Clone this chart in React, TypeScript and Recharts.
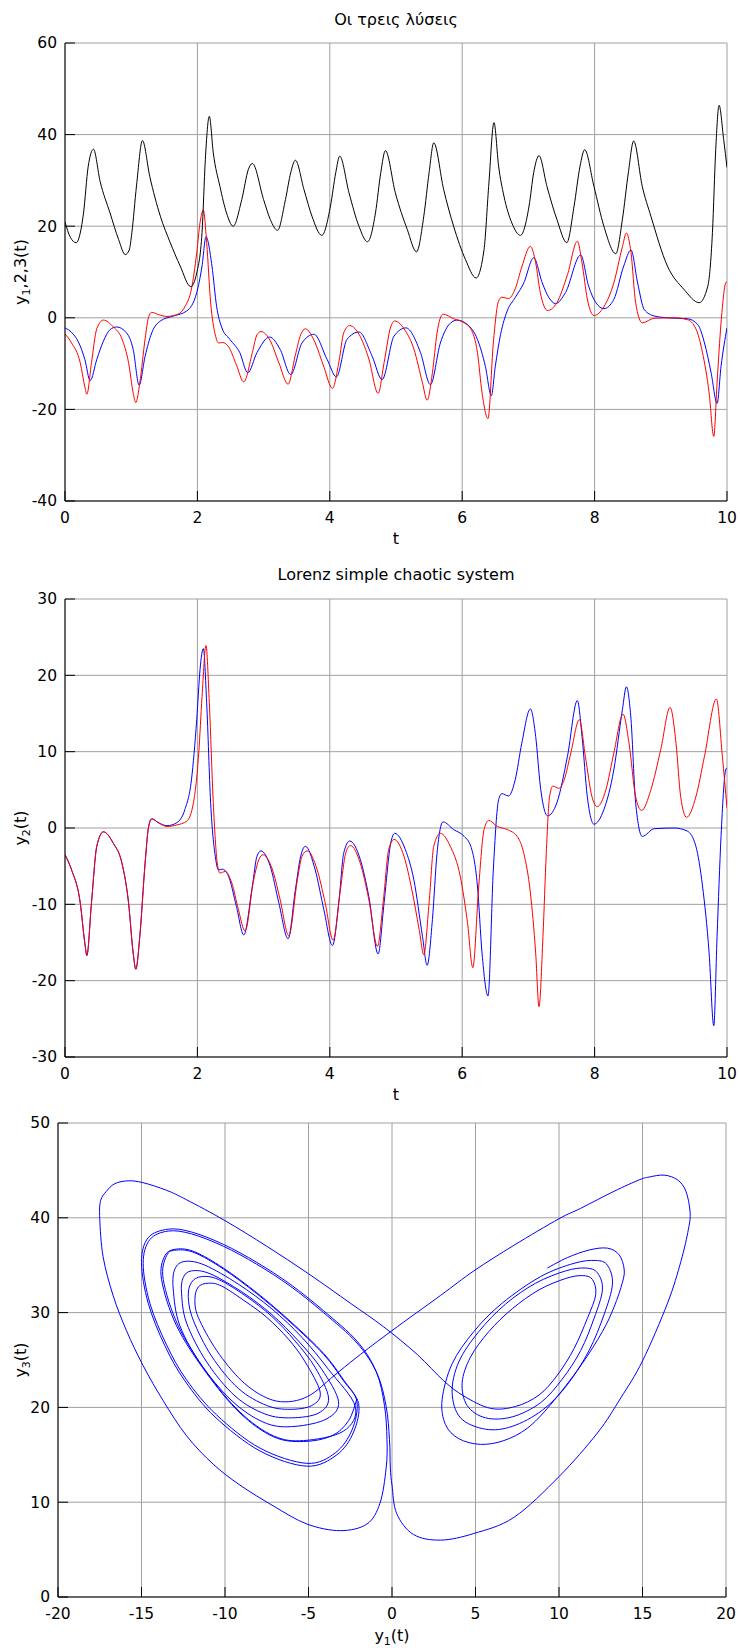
import React from 'react'
import { CartesianGrid, Line, LineChart, XAxis, YAxis } from 'recharts'

const font = '"DejaVu Sans", "Noto Sans", sans-serif'
const gridColor = '#a0a0a0'

const tTicks = [0, 2, 4, 6, 8, 10]
const solutionTicks = [-40, -20, 0, 20, 40, 60]
const y2Ticks = [-30, -20, -10, 0, 10, 20, 30]
const y1Ticks = [-20, -15, -10, -5, 0, 5, 10, 15, 20]
const y3Ticks = [0, 10, 20, 30, 40, 50]

// [t, y1]
const y1Points: [number, number][] = [
  [0, -2.2], [0.1, -3.2], [0.2, -5.2], [0.3, -9.1], [0.38, -13.7], [0.48, -9.1], [0.58, -5.1], [0.68, -2.6],
  [0.78, -2.0], [0.93, -3.3], [1.03, -6.9], [1.12, -14.7], [1.21, -8.4], [1.31, -3.3], [1.44, -0.7], [1.64, 0.4],
  [1.84, 1.5], [1.99, 5.5], [2.07, 11.3], [2.13, 17.7], [2.22, 11.3], [2.29, 2.5], [2.37, -2.2], [2.49, -4.7],
  [2.64, -7.6], [2.76, -12.0], [2.9, -7.6], [3.09, -4.2], [3.25, -6.9], [3.41, -12.4], [3.58, -5.5], [3.76, -3.6],
  [3.96, -9.1], [4.1, -12.9], [4.26, -4.7], [4.44, -3.1], [4.64, -8.4], [4.79, -13.5], [4.97, -4.0], [5.15, -2.2],
  [5.37, -7.6], [5.52, -14.6], [5.67, -5.5], [5.8, -1.5], [5.92, -0.5], [6.08, -1.5], [6.23, -4.7], [6.35, -10.6],
  [6.44, -17.0], [6.5, -10.6], [6.58, -3.6], [6.68, 1.5], [6.8, 4.4], [6.93, 7.6], [7.08, 13.1], [7.21, 7.6],
  [7.31, 4.4], [7.41, 3.1], [7.56, 5.5], [7.79, 13.7], [7.91, 6.9], [8.02, 3.3], [8.14, 2.0], [8.29, 4.0],
  [8.44, 11.3], [8.55, 14.8], [8.65, 7.6], [8.75, 1.8], [8.9, 0.4], [9.1, 0], [9.4, -0.2], [9.56, -1.5],
  [9.66, -5.5], [9.76, -12.0], [9.85, -18.7], [9.91, -10.6], [10, -2.2],
]

// [t, y2]
const y2Points: [number, number][] = [
  [0, -3.5], [0.1, -5.5], [0.23, -9.8], [0.3, -15.1], [0.33, -16.7], [0.4, -9.8], [0.48, -2.4], [0.58, -0.5],
  [0.73, -2.0], [0.86, -4.6], [0.96, -9.8], [1.03, -16.4], [1.07, -18.5], [1.13, -14.2], [1.21, -4.6], [1.26, 0],
  [1.31, 1.2], [1.41, 0.7], [1.54, 0.3], [1.69, 0.7], [1.81, 2.4], [1.91, 6.3], [1.99, 14.2], [2.04, 20.8],
  [2.09, 23.5], [2.14, 16.4], [2.2, 3.3], [2.27, -3.7], [2.32, -5.5], [2.38, -5.4], [2.47, -6.3], [2.59, -10.3],
  [2.7, -14.0], [2.83, -7.6], [2.9, -3.7], [2.96, -3.0], [3.1, -5.0], [3.23, -9.8], [3.37, -14.5], [3.48, -8.1],
  [3.56, -3.7], [3.63, -2.4], [3.78, -5.5], [3.91, -10.7], [4.04, -15.4], [4.14, -9.4], [4.21, -3.3], [4.3, -1.7],
  [4.46, -4.1], [4.59, -9.0], [4.73, -16.5], [4.82, -9.8], [4.92, -2.0], [4.98, -0.7], [5.14, -2.8], [5.27, -6.8],
  [5.4, -14.2], [5.47, -18.0], [5.55, -12.0], [5.62, -3.3], [5.71, 0.8], [5.87, -0.2], [6.03, -1.1], [6.13, -2.4],
  [6.23, -7.6], [6.3, -16.4], [6.39, -22.0], [6.47, -5.5], [6.55, 3.7], [6.6, 4.5], [6.7, 4.2], [6.8, 6.3],
  [6.9, 11.1], [7.03, 15.6], [7.11, 12.0], [7.18, 5.5], [7.29, 1.6], [7.43, 3.3], [7.59, 9.4], [7.74, 16.7],
  [7.81, 12.0], [7.89, 4.1], [7.99, 0.5], [8.14, 2.4], [8.29, 7.6], [8.42, 15.5], [8.48, 18.5], [8.55, 14.2],
  [8.62, 3.3], [8.72, -1.1], [8.9, -0.1], [9.2, 0], [9.4, -0.4], [9.53, -2.4], [9.63, -7.6], [9.73, -16.4],
  [9.8, -25.9], [9.85, -14.2], [9.91, -1.1], [9.98, 7.6], [10, 7.9],
]

// [t, y3]
const y3Points: [number, number][] = [
  [0, 20.9], [0.08, 17.6], [0.17, 16.4], [0.23, 18.5], [0.28, 22.9], [0.35, 33.0], [0.43, 36.8], [0.53, 29.8],
  [0.68, 22.9], [0.81, 17.1], [0.91, 13.8], [0.97, 14.8], [1.01, 18.6], [1.08, 28.8], [1.17, 38.7], [1.28, 30.9],
  [1.44, 22.2], [1.59, 16.4], [1.74, 11.3], [1.9, 6.8], [1.99, 9.8], [2.07, 18.6], [2.12, 34.6], [2.18, 44.0],
  [2.24, 36.0], [2.34, 28.7], [2.44, 22.9], [2.54, 20.0], [2.67, 25.8], [2.77, 32.4], [2.83, 33.7], [3.0, 25.8],
  [3.1, 21.5], [3.21, 19.1], [3.33, 25.8], [3.41, 31.7], [3.48, 34.4], [3.61, 28.0], [3.73, 22.2], [3.88, 18.0],
  [4.01, 24.4], [4.09, 31.7], [4.15, 35.3], [4.29, 27.3], [4.44, 20.0], [4.57, 16.6], [4.69, 22.9], [4.77, 31.7],
  [4.84, 36.5], [4.99, 27.3], [5.17, 19.3], [5.31, 14.4], [5.42, 22.2], [5.5, 31.7], [5.57, 38.2], [5.72, 28.0],
  [5.87, 20.0], [6.05, 12.7], [6.21, 8.7], [6.33, 14.9], [6.4, 28.7], [6.48, 42.6], [6.55, 33.1], [6.63, 26.6],
  [6.75, 20.7], [6.88, 18.0], [7.01, 24.4], [7.08, 31.7], [7.16, 35.4], [7.28, 28.7], [7.43, 21.5], [7.58, 16.4],
  [7.69, 24.4], [7.78, 33.1], [7.85, 36.7], [7.99, 28.7], [8.14, 20.0], [8.32, 14.0], [8.42, 21.5], [8.51, 31.7],
  [8.59, 38.6], [8.72, 28.7], [8.85, 22.2], [9.1, 11.3], [9.35, 6.2], [9.58, 3.3], [9.71, 6.9], [9.78, 18.6],
  [9.83, 36.8], [9.88, 46.4], [9.95, 38.9], [10, 32.8],
]

// [t, y2] from the slightly perturbed start
const y2PerturbedPoints: [number, number][] = [
  [0, -3.5], [0.1, -5.5], [0.23, -9.8], [0.3, -15.1], [0.33, -16.7], [0.4, -9.8], [0.48, -2.4], [0.58, -0.5],
  [0.73, -2.0], [0.86, -4.6], [0.96, -9.8], [1.03, -16.4], [1.07, -18.5], [1.13, -14.2], [1.21, -4.6], [1.26, 0],
  [1.31, 1.2], [1.41, 0.7], [1.54, 0.2], [1.69, 0.4], [1.84, 0.9], [1.94, 3.3], [2.02, 9.8], [2.07, 17.2],
  [2.13, 23.9], [2.18, 16.4], [2.24, 3.3], [2.3, -4.6], [2.34, -5.9], [2.42, -5.7], [2.52, -7.2], [2.62, -10.7],
  [2.72, -13.5], [2.85, -6.8], [2.93, -4.1], [2.99, -3.5], [3.15, -5.9], [3.25, -9.4], [3.38, -14.1], [3.51, -6.8],
  [3.58, -3.7], [3.66, -3.0], [3.81, -5.5], [3.93, -9.8], [4.05, -14.7], [4.16, -8.1], [4.24, -3.3], [4.31, -2.3],
  [4.46, -4.6], [4.59, -9.4], [4.72, -15.5], [4.81, -9.4], [4.89, -2.8], [4.97, -1.5], [5.12, -3.7], [5.24, -8.1],
  [5.35, -13.3], [5.42, -16.6], [5.5, -9.8], [5.57, -2.4], [5.67, -0.7], [5.82, -2.4], [5.97, -6.3], [6.08, -12.4],
  [6.16, -18.3], [6.25, -7.6], [6.33, -0.2], [6.4, 1.0], [6.53, 0.2], [6.68, -0.2], [6.83, -1.1], [6.93, -3.3],
  [7.03, -8.5], [7.11, -16.4], [7.16, -23.4], [7.22, -14.2], [7.27, -3.3], [7.32, 4.1], [7.37, 5.5], [7.46, 5.2],
  [7.54, 6.3], [7.64, 9.8], [7.77, 14.2], [7.86, 9.4], [7.96, 4.1], [8.04, 2.8], [8.17, 5.0], [8.29, 9.8],
  [8.43, 14.9], [8.52, 11.1], [8.62, 4.1], [8.71, 2.3], [8.85, 5.0], [9.0, 10.3], [9.14, 15.8], [9.23, 11.1],
  [9.3, 4.1], [9.39, 1.4], [9.53, 4.1], [9.66, 9.4], [9.84, 16.9], [9.93, 9.4], [10, 2.6],
]

// [y1, y3] along the trajectory, in time order
const phasePoints: [number, number][] = [
  // left wing, first two turns
  [-2.1, 20.9], [-2.6, 18.6], [-3.6, 17.0], [-5.3, 16.4], [-7.1, 16.9], [-9.1, 19.4], [-11.1, 23.6], [-12.9, 28.6],
  [-13.8, 33.5], [-13.6, 36.0], [-12.9, 36.7], [-11.8, 36.4], [-10.1, 34.7], [-8.1, 32.1], [-6.1, 29.1], [-4.1, 25.7],
  [-2.9, 22.9], [-2.1, 20.6], [-2.4, 17.6], [-3.4, 15.2], [-5.1, 14.1], [-7.9, 15.7], [-10.5, 19.2], [-12.3, 22.9],
  [-13.5, 26.6], [-14.5, 31.0], [-14.9, 35.2], [-14.5, 37.7], [-13.4, 38.6], [-12.0, 38.3], [-10.1, 37.0], [-8.1, 35.1],
  [-6.1, 32.8], [-4.1, 30.0], [-2.1, 26.8], [-0.9, 23.6], [-0.35, 20.1], [-0.15, 16.6], [-0.1, 13.6],
  // big swing round the right wing
  [0, 11.8], [0.28, 8.8], [1.28, 6.6], [2.9, 6.0], [4.9, 6.7], [7.3, 8.4], [10.0, 12.7], [12.3, 17.3],
  [13.7, 21.0], [15.0, 24.9], [16.5, 31.0], [17.3, 35.4], [17.75, 38.8], [17.85, 40.6], [17.6, 42.8], [17.1, 44.0],
  [16.3, 44.5], [15.4, 44.3], [14.8, 44.0], [13.3, 42.8], [11.3, 41.0], [10.0, 39.9], [7.3, 37.1], [4.9, 34.4],
  [2.9, 31.8], [0, 28.1], [-2.1, 25.3], [-3.5, 23.3], [-4.9, 21.3],
  // left wing, spiralling outward
  [-6.2, 20.6], [-7.5, 21.0], [-9.0, 22.8], [-10.5, 26.0], [-11.6, 29.5], [-11.8, 31.4], [-11.6, 32.7], [-11.0, 33.1],
  [-10.2, 32.8], [-8.8, 31.2], [-7.5, 29.5], [-6.2, 27.2], [-5.2, 24.8],
  [-4.3, 21.6], [-4.8, 20.2], [-6.1, 19.8], [-7.5, 20.2], [-9.2, 22.0], [-10.8, 25.4], [-11.9, 29.2], [-12.2, 31.7],
  [-12.0, 33.2], [-11.4, 33.8], [-10.4, 33.5], [-8.8, 31.8], [-7.2, 29.6], [-5.8, 27.0], [-4.6, 24.2],
  [-3.8, 21.0], [-4.4, 19.4], [-6.0, 18.9], [-7.6, 19.3], [-9.4, 21.2], [-11.1, 24.8], [-12.3, 28.9], [-12.6, 32.0],
  [-12.5, 33.7], [-12.0, 34.4], [-10.9, 34.1], [-9.0, 32.2], [-7.2, 29.8], [-5.6, 27.0], [-4.2, 24.0],
  [-3.2, 20.6], [-3.9, 18.8], [-5.8, 18.0], [-7.5, 18.3], [-9.4, 20.4], [-11.3, 24.2], [-12.7, 28.6], [-13.1, 32.5],
  [-13.0, 34.6], [-12.4, 35.4], [-11.2, 35.0], [-9.2, 33.0], [-7.2, 30.4], [-5.4, 27.4], [-3.8, 24.0],
  [-2.2, 20.1], [-2.9, 17.5], [-5.3, 16.5], [-7.1, 17.0], [-9.1, 19.5], [-11.1, 23.7], [-12.8, 28.6], [-13.7, 33.5],
  [-13.5, 36.0], [-12.9, 36.6], [-11.8, 36.3], [-10.1, 34.6], [-8.1, 32.0], [-6.1, 29.0], [-4.1, 25.6], [-2.9, 22.8],
  [-2.0, 20.4], [-2.3, 17.4], [-3.3, 15.0], [-5.1, 13.8], [-7.9, 15.4], [-10.6, 19.0], [-12.4, 22.8], [-13.6, 26.5],
  [-14.6, 31.0], [-15.0, 35.3], [-14.6, 37.9], [-13.4, 38.8], [-12.0, 38.5], [-10.1, 37.2], [-8.1, 35.3], [-6.1, 33.0],
  [-4.1, 30.2], [-2.1, 27.0], [-0.95, 23.8], [-0.45, 20.2], [-0.3, 16.6], [-0.35, 13.6],
  // big swing round the left wing, then across
  [-0.72, 9.9], [-1.5, 7.7], [-3.1, 7.0], [-5.1, 7.7], [-7.1, 9.6], [-9.1, 11.8], [-10.7, 14.0], [-12.3, 17.0],
  [-13.7, 20.7], [-14.9, 24.4], [-15.9, 28.1], [-16.7, 31.8], [-17.3, 35.9], [-17.5, 39.9], [-17.45, 41.8], [-17.1, 42.8],
  [-16.6, 43.6], [-15.8, 43.9], [-14.9, 43.7], [-13.5, 42.9], [-12.3, 41.9], [-10.0, 39.7], [-7.5, 37.0], [-5.0, 34.1],
  [-2.5, 31.0], [-0.5, 28.5], [1.5, 25.6], [3.1, 22.8], [4.3, 21.2], [5.9, 19.9],
  // right wing, spiralling outward
  [7.4, 20.1], [8.8, 21.3], [9.9, 23.4], [10.9, 26.2], [11.7, 29.4], [12.2, 31.9], [12.0, 33.5], [11.4, 33.9],
  [10.4, 33.6], [8.8, 32.4], [7.2, 30.4], [5.8, 28.0], [4.7, 25.3], [4.2, 22.6], [4.5, 20.2], [5.6, 18.9],
  [7.2, 19.0], [8.9, 20.5], [10.2, 23.0], [11.3, 26.0], [12.1, 29.4], [12.6, 32.4], [12.3, 34.2], [11.6, 34.7],
  [10.4, 34.4], [8.6, 33.1], [6.8, 30.9], [5.2, 28.0], [4.0, 24.8], [3.6, 21.6], [4.1, 18.9], [5.6, 17.7],
  [7.2, 18.0], [9.0, 19.7], [10.5, 22.4], [11.8, 26.0], [12.7, 29.8], [13.2, 33.0], [12.9, 35.0], [12.2, 35.5],
  [10.9, 35.2], [8.9, 33.8], [6.6, 31.0], [4.9, 28.0], [3.6, 24.6], [3.0, 20.8], [3.2, 18.2], [4.0, 16.7],
  [5.3, 16.1], [6.7, 16.5], [8.1, 17.8], [9.5, 20.3], [11.3, 24.4], [12.6, 28.0], [13.3, 30.6], [13.8, 33.2],
  [13.9, 34.6], [13.6, 36.1], [12.9, 36.8], [11.8, 36.6], [10.5, 35.8], [9.3, 34.7],
]

const toRows = (pts: [number, number][]) => pts.map(([t, v]) => ({ t, v }))
const phaseRows = phasePoints.map(([x, y]) => ({ x, y }))

// uniform Catmull-Rom through the samples, so the loops stay round in both directions
function catmullRom(context: any) {
  let pts: [number, number][] = []
  return {
    areaStart() {},
    areaEnd() {},
    lineStart() {
      pts = []
    },
    point(x: number, y: number) {
      pts.push([+x, +y])
    },
    lineEnd() {
      if (!pts.length) return
      context.moveTo(pts[0][0], pts[0][1])
      for (let i = 0; i < pts.length - 1; i++) {
        const p0 = pts[Math.max(i - 1, 0)]
        const p1 = pts[i]
        const p2 = pts[i + 1]
        const p3 = pts[Math.min(i + 2, pts.length - 1)]
        context.bezierCurveTo(
          p1[0] + (p2[0] - p0[0]) / 6,
          p1[1] + (p2[1] - p0[1]) / 6,
          p2[0] - (p3[0] - p1[0]) / 6,
          p2[1] - (p3[1] - p1[1]) / 6,
          p2[0],
          p2[1],
        )
      }
    },
  }
}

// inward tick marks on all four sides, labels on bottom and left only
const BottomTick = ({ x, y, payload }: any) => (
  <g>
    <line x1={x} y1={y} x2={x} y2={y - 10} stroke="#000" />
    <text x={x} y={y + 21.5} textAnchor="middle" fontFamily={font} fontSize={15.5} fill="#000">
      {payload.value}
    </text>
  </g>
)
const TopTick = ({ x, y }: any) => <line x1={x} y1={y} x2={x} y2={y + 10} stroke="#000" />
const LeftTick = ({ x, y, payload }: any) => (
  <g>
    <line x1={x} y1={y} x2={x + 10} y2={y} stroke="#000" />
    <text x={x - 8} y={y + 5.3} textAnchor="end" fontFamily={font} fontSize={15.5} fill="#000">
      {payload.value}
    </text>
  </g>
)
const RightTick = ({ x, y }: any) => <line x1={x} y1={y} x2={x - 10} y2={y} stroke="#000" />

const frame = { stroke: '#000' }

function Panel({
  top,
  height,
  margin,
  leftWidth,
  xKey,
  xDomain,
  xTicks,
  yDomain,
  yTicks,
  bottomHeight,
  children,
}: {
  top: number
  height: number
  margin: { top: number; right: number; bottom: number; left: number }
  leftWidth: number
  xKey: string
  xDomain: [number, number]
  xTicks: number[]
  yDomain: [number, number]
  yTicks: number[]
  bottomHeight: number
  children: React.ReactNode
}) {
  return (
    <div style={{ position: 'absolute', left: 0, top }}>
      <LineChart width={740} height={height} margin={margin}>
        <CartesianGrid stroke={gridColor} strokeWidth={1} />
        <XAxis
          type="number"
          dataKey={xKey}
          domain={xDomain}
          ticks={xTicks}
          interval={0}
          height={bottomHeight}
          tickSize={0}
          tickMargin={0}
          tick={BottomTick}
          axisLine={frame}
          allowDataOverflow
        />
        <XAxis
          xAxisId="top"
          orientation="top"
          type="number"
          dataKey={xKey}
          domain={xDomain}
          ticks={xTicks}
          interval={0}
          height={0}
          tickSize={0}
          tickMargin={0}
          tick={TopTick}
          axisLine={frame}
          allowDataOverflow
        />
        <YAxis
          type="number"
          domain={yDomain}
          ticks={yTicks}
          interval={0}
          width={leftWidth}
          tickSize={0}
          tickMargin={0}
          tick={LeftTick}
          axisLine={frame}
          allowDataOverflow
        />
        <YAxis
          yAxisId="right"
          orientation="right"
          type="number"
          domain={yDomain}
          ticks={yTicks}
          interval={0}
          width={0}
          tickSize={0}
          tickMargin={0}
          tick={RightTick}
          axisLine={frame}
          allowDataOverflow
        />
        {children}
      </LineChart>
    </div>
  )
}

const Sub = ({ base, sub, rest }: { base: string; sub: string; rest: string }) => (
  <>
    {base}
    <tspan fontSize={11} dy={4}>
      {sub}
    </tspan>
    <tspan dy={-4}>{rest}</tspan>
  </>
)

export default function App() {
  const timeMargin = { top: 43, right: 13, bottom: 0, left: 0 }
  return (
    <div style={{ position: 'absolute', left: 0, top: 0, width: 740, height: 1650, background: '#fff' }}>
      <Panel
        top={0}
        height={560}
        margin={timeMargin}
        leftWidth={65}
        xKey="t"
        xDomain={[0, 10]}
        xTicks={tTicks}
        yDomain={[-40, 60]}
        yTicks={solutionTicks}
        bottomHeight={59}
      >
        <Line data={toRows(y1Points)} dataKey="v" type="monotone" stroke="#0000ff" strokeWidth={1} dot={false} activeDot={false} isAnimationActive={false} />
        <Line data={toRows(y2Points)} dataKey="v" type="monotone" stroke="#ff0000" strokeWidth={1} dot={false} activeDot={false} isAnimationActive={false} />
        <Line data={toRows(y3Points)} dataKey="v" type="monotone" stroke="#000000" strokeWidth={1} dot={false} activeDot={false} isAnimationActive={false} />
      </Panel>

      <Panel
        top={556}
        height={560}
        margin={timeMargin}
        leftWidth={65}
        xKey="t"
        xDomain={[0, 10]}
        xTicks={tTicks}
        yDomain={[-30, 30]}
        yTicks={y2Ticks}
        bottomHeight={59}
      >
        <Line data={toRows(y2Points)} dataKey="v" type="monotone" stroke="#0000ff" strokeWidth={1} dot={false} activeDot={false} isAnimationActive={false} />
        <Line data={toRows(y2PerturbedPoints)} dataKey="v" type="monotone" stroke="#ff0000" strokeWidth={1} dot={false} activeDot={false} isAnimationActive={false} />
      </Panel>

      <Panel
        top={1100}
        height={550}
        margin={{ top: 23, right: 14, bottom: 0, left: 0 }}
        leftWidth={58}
        xKey="x"
        xDomain={[-20, 20]}
        xTicks={y1Ticks}
        yDomain={[0, 50]}
        yTicks={y3Ticks}
        bottomHeight={53}
      >
        <Line data={phaseRows} dataKey="y" type={catmullRom as any} stroke="#0000ff" strokeWidth={1} dot={false} activeDot={false} isAnimationActive={false} />
      </Panel>

      <svg
        width={740}
        height={1650}
        style={{ position: 'absolute', left: 0, top: 0, pointerEvents: 'none' }}
        fontFamily={font}
        fontSize={16}
        fill="#000"
      >
        <text x={396} y={24.5} textAnchor="middle">Οι τρεις λύσεις</text>
        <text x={396} y={544} textAnchor="middle">t</text>
        <text transform="translate(26 272) rotate(-90)" textAnchor="middle">
          <Sub base="y" sub="1" rest=",2,3(t)" />
        </text>

        <text x={396} y={580} textAnchor="middle">Lorenz simple chaotic system</text>
        <text x={396} y={1100} textAnchor="middle">t</text>
        <text transform="translate(26 828) rotate(-90)" textAnchor="middle">
          <Sub base="y" sub="2" rest="(t)" />
        </text>

        <text x={392} y={1641} textAnchor="middle">
          <Sub base="y" sub="1" rest="(t)" />
        </text>
        <text transform="translate(26 1360) rotate(-90)" textAnchor="middle">
          <Sub base="y" sub="3" rest="(t)" />
        </text>
      </svg>
    </div>
  )
}
